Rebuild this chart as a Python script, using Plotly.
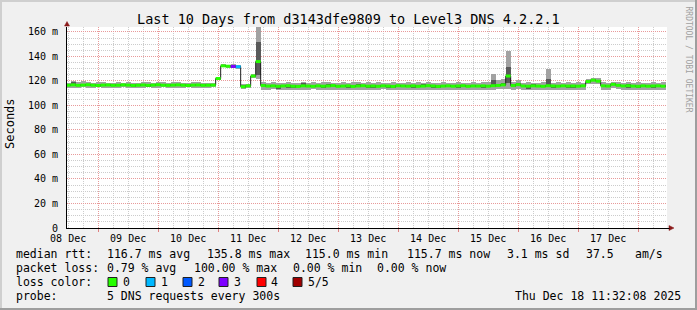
import plotly.graph_objects as go
import pandas as pd

# ---------------- data (2-hour bins starting 2025-12-08 11:00) ----------------
median_ms = [
    116.5, 116.8, 116.4, 116.6, 116.9, 116.5, 116.3, 116.6, 116.7, 116.4,
    116.5, 116.8, 116.6, 116.3, 116.5, 116.7, 116.4, 116.6, 116.9, 116.5,
    116.4, 116.6, 116.8, 116.5, 116.3, 116.6, 116.7, 116.4, 116.5, 116.6,
    122.0, 132.3, 132.0, 131.8, 131.6, 115.3, 116.0, 124.0, 135.8, 116.2,
    115.8, 116.0, 115.6, 115.9, 116.1, 115.7, 115.5, 116.0, 115.8, 115.6,
    116.0, 115.7, 115.9, 116.2, 115.6, 115.8, 116.0, 115.5, 115.9, 116.1,
    115.7, 115.9, 115.6, 116.0, 115.8, 115.5, 116.1, 115.9, 115.7, 116.0,
    115.6, 115.8, 116.1, 115.9, 115.5, 115.8, 116.0, 115.7, 115.9, 116.1,
    115.6, 115.9, 115.8, 116.0, 115.7, 116.1, 116.3, 116.8, 124.0, 116.2,
    117.0, 115.9, 115.7, 116.0, 115.8, 115.6, 116.1, 115.9, 115.7, 116.0,
    115.8, 115.9, 115.7, 116.0, 119.5, 120.6, 119.8, 116.0, 115.8, 117.2,
    116.4, 115.9, 116.1, 115.8, 115.6, 116.0, 115.7, 115.9, 116.0, 115.7,
]
loss_level = [0] * 120
loss_level[33] = 3
loss_level[34] = 1

smoke_outer_lo = [
    114.4, 114.6, 114.1, 114.8, 114.5, 114.2, 114.7, 114.3, 114.6, 114.0,
    114.5, 114.8, 114.2, 114.4, 114.6, 114.1, 114.7, 114.3, 114.5, 114.8,
    114.2, 114.4, 114.6, 114.1, 114.7, 114.5, 114.2, 114.6, 114.4, 114.8,
    120.5, 131.0, 130.8, 130.5, 130.0, 113.8, 114.2, 122.5, 121.5, 112.9,
    112.6, 113.2, 112.3, 112.8, 113.0, 112.4, 112.2, 112.9, 112.6, 113.1,
    112.5, 112.3, 112.8, 113.0, 112.4, 112.7, 112.2, 112.9, 112.6, 113.0,
    112.4, 112.8, 112.3, 113.1, 112.5, 112.2, 112.9, 112.7, 112.4, 113.0,
    112.3, 112.6, 112.9, 112.4, 112.2, 112.8, 113.0, 112.5, 112.7, 112.4,
    112.9, 112.3, 112.6, 113.0, 112.4, 112.8, 113.2, 113.3, 113.4, 112.7,
    113.6, 112.5, 112.2, 112.9, 112.6, 112.4, 113.0, 112.7, 112.3, 112.8,
    112.5, 112.9, 112.4, 112.7, 117.2, 117.9, 117.3, 112.6, 112.4, 114.0,
    113.2, 112.7, 113.0, 112.4, 112.3, 112.8, 112.5, 112.9, 112.6, 112.4,
]
smoke_outer_hi = [
    118.5, 119.8, 119.1, 119.6, 118.8, 118.3, 118.9, 119.2, 118.6, 118.4,
    119.0, 118.7, 119.2, 118.5, 118.3, 118.9, 119.4, 118.6, 119.1, 118.8,
    118.5, 119.0, 119.3, 118.7, 118.4, 118.9, 119.2, 118.6, 118.3, 118.7,
    123.0, 133.5, 133.2, 133.5, 133.0, 117.5, 117.8, 125.5, 164.5, 118.8,
    118.4, 119.0, 118.3, 118.7, 119.2, 118.5, 118.2, 118.9, 118.6, 119.0,
    118.4, 118.8, 119.3, 118.3, 118.7, 119.1, 118.4, 118.8, 119.0, 118.5,
    118.9, 118.3, 119.1, 118.6, 118.4, 119.0, 118.7, 118.3, 118.9, 118.6,
    119.2, 118.4, 118.8, 118.5, 118.3, 119.0, 118.7, 118.4, 118.9, 118.7,
    118.4, 119.0, 118.6, 119.1, 119.4, 125.5, 120.9, 121.4, 144.5, 118.8,
    120.4, 118.6, 119.0, 118.4, 118.7, 118.9, 130.0, 118.6, 119.0, 118.5,
    118.8, 118.4, 118.9, 118.7, 121.9, 122.4, 122.0, 118.8, 118.4, 119.4,
    119.0, 118.6, 118.9, 118.4, 119.1, 118.7, 118.5, 119.0, 118.6, 118.8,
]
smoke_inner_lo = [
    115.6, 115.9, 115.5, 115.7, 116.0, 115.6, 115.2, 115.7, 115.8, 115.5,
    115.6, 115.9, 115.7, 115.2, 115.6, 115.8, 115.3, 115.7, 116.0, 115.6,
    115.5, 115.7, 115.9, 115.6, 115.2, 115.7, 115.8, 115.5, 115.6, 115.7,
    121.2, 131.6, 131.4, 131.2, 131.0, 114.6, 115.2, 123.2, 124.5, 115.3,
    114.9, 115.1, 113.8, 115.2, 114.0, 114.6, 115.1, 114.9, 114.7, 115.1,
    114.8, 114.0, 115.3, 114.7, 114.9, 115.1, 113.9, 115.0, 115.2, 114.8,
    114.0, 114.6, 115.1, 114.9, 114.6, 114.0, 115.0, 114.8, 115.1, 114.0,
    114.9, 115.2, 115.0, 114.6, 113.9, 115.1, 114.8, 115.0, 114.0, 114.7,
    115.0, 114.9, 115.1, 114.0, 115.2, 115.2, 115.8, 116.0, 118.0, 115.3,
    116.1, 115.0, 113.8, 115.1, 114.9, 114.7, 115.0, 115.0, 114.8, 115.1,
    114.0, 115.0, 114.8, 115.1, 118.6, 119.7, 118.9, 115.1, 114.9, 116.3,
    115.5, 115.0, 114.0, 114.9, 113.9, 115.1, 114.8, 114.0, 115.1, 114.8,
]
smoke_inner_hi = [
    117.4, 119.0, 117.3, 117.5, 117.8, 117.4, 117.2, 117.5, 117.6, 117.3,
    117.4, 117.7, 117.5, 117.2, 117.4, 117.6, 117.3, 117.5, 117.8, 117.4,
    117.3, 117.5, 117.7, 117.4, 117.2, 117.5, 117.6, 117.3, 117.4, 117.5,
    122.6, 133.0, 132.8, 132.6, 132.4, 116.4, 116.9, 124.8, 152.0, 117.1,
    116.7, 116.9, 116.6, 117.0, 116.6, 116.4, 116.9, 118.0, 116.5, 116.9,
    116.6, 116.8, 117.1, 116.5, 116.7, 116.9, 116.4, 116.8, 117.9, 116.6,
    116.8, 116.5, 116.9, 116.7, 116.4, 117.0, 116.8, 116.6, 116.9, 116.5,
    116.7, 117.8, 116.8, 116.4, 116.7, 116.9, 116.6, 116.8, 117.0, 116.5,
    116.8, 116.7, 116.9, 116.6, 117.0, 121.0, 117.8, 118.0, 131.0, 117.1,
    118.0, 116.8, 116.6, 117.9, 116.7, 116.5, 121.4, 116.6, 116.9, 116.6,
    116.8, 116.6, 116.9, 116.7, 120.4, 121.5, 120.7, 116.9, 116.7, 118.1,
    117.3, 116.9, 117.1, 116.7, 116.5, 116.9, 116.6, 116.8, 117.0, 116.6,
]

x_day_labels = ["08 Dec", "09 Dec", "10 Dec", "11 Dec", "12 Dec",
                "13 Dec", "14 Dec", "15 Dec", "16 Dec", "17 Dec"]
y_tick_values = [0, 20, 40, 60, 80, 100, 120, 140, 160]
y_tick_labels = ["0", "20 m", "40 m", "60 m", "80 m", "100 m", "120 m", "140 m", "160 m"]

loss_names = ["0", "1", "2", "3", "4", "5/5"]
loss_colors = ["#26ff00", "#00b8ff", "#0059ff", "#7e00ff", "#ff0000", "#a00000"]

legend_rows = [
    [("median rtt:", 16), ("116.7 ms avg", 107), ("135.8 ms max", 207), ("115.0 ms min", 305),
     ("115.7 ms now", 407), ("3.1 ms sd", 507), ("37.5", 586), ("am/s", 635)],
    [("packet loss:", 16), ("0.79 % avg", 107), ("100.00 % max", 194), ("0.00 % min", 293),
     ("0.00 % now", 377)],
    [("loss color:", 16)],
    [("probe:", 16), ("5 DNS requests every 300s", 107)],
]
title_text = "Last 10 Days from d3143dfe9809 to Level3 DNS 4.2.2.1"
stamp_text = "Thu Dec 18 11:32:08 2025"

# ---------------- geometry ----------------
W, H = 697, 310
PL, PR, PT, PB = 67, 667, 27, 228   # plot area in pixels
MONO = "DejaVu Sans Mono"

def px(x):
    return (x - PL) / (PR - PL)

def py(y):
    return (PB - y) / (PB - PT)

start = pd.Timestamp("2025-12-08 11:32:08")
end = pd.Timestamp("2025-12-18 11:32:08")
bin0 = pd.Timestamp("2025-12-08 11:00:00")
step = pd.Timedelta(hours=2)
n = len(median_ms)
left_edges = [bin0 + i * step for i in range(n)]
centers = [t + step / 2 for t in left_edges]
width_ms = step.total_seconds() * 1000

fig = go.Figure()
fig.add_trace(go.Bar(x=centers, base=smoke_outer_lo,
                     y=[h - l for h, l in zip(smoke_outer_hi, smoke_outer_lo)],
                     width=width_ms, marker=dict(color="#a2a2a2", line=dict(width=0)),
                     hoverinfo="skip", showlegend=False))
fig.add_trace(go.Bar(x=centers, base=smoke_inner_lo,
                     y=[h - l for h, l in zip(smoke_inner_hi, smoke_inner_lo)],
                     width=width_ms, marker=dict(color="#5a5a5a", line=dict(width=0)),
                     hoverinfo="skip", showlegend=False))
fig.add_trace(go.Scatter(x=left_edges + [left_edges[-1] + step], y=median_ms + [median_ms[-1]],
                         mode="lines", line=dict(color="#202020", width=1, shape="hv"),
                         hoverinfo="skip", showlegend=False))
for lvl, col in enumerate(loss_colors):
    xs, ys = [], []
    for i in range(n):
        if loss_level[i] == lvl:
            xs += [left_edges[i], left_edges[i] + step, None]
            ys += [median_ms[i], median_ms[i], None]
    if xs:
        fig.add_trace(go.Scatter(x=xs, y=ys, mode="lines", line=dict(color=col, width=3),
                                 hoverinfo="skip", showlegend=False))
# companion trace for the midnight grid axis
fig.add_trace(go.Scatter(x=[start], y=[None], xaxis="x2", mode="lines",
                         hoverinfo="skip", showlegend=False))

noon_ticks = [pd.Timestamp("2025-12-08 12:00") + pd.Timedelta(days=d) for d in range(len(x_day_labels))]

RED_GRID = "#e89a9a"
GRAY_GRID = "#cccccc"
fig.update_layout(
    width=W, height=H,
    margin=dict(l=PL, r=W - PR, t=PT, b=H - PB),
    paper_bgcolor="#f0f0f0", plot_bgcolor="#ffffff",
    barmode="overlay", bargap=0,
    font=dict(family=MONO, color="#000000"),
    xaxis=dict(type="date", range=[start, end], tickmode="array", tickvals=noon_ticks,
               ticktext=x_day_labels, showgrid=False, zeroline=False, ticks="",
               showline=True, linecolor="#000000", linewidth=1,
               tickfont=dict(family=MONO, size=10, color="#000000"), ticklabelstandoff=1,
               minor=dict(tickmode="linear", tick0="2025-12-08 00:00", dtick=6 * 3600 * 1000,
                          showgrid=True, gridcolor=GRAY_GRID, griddash="1px,1px", gridwidth=1)),
    xaxis2=dict(type="date", range=[start, end], overlaying="x", anchor="y", side="bottom",
                tickmode="linear", tick0="2025-12-09 00:00", dtick=86400000,
                showgrid=True, gridcolor=RED_GRID, griddash="1px,1px", gridwidth=1,
                showticklabels=False, ticks="outside", ticklen=3, tickcolor="#e08080",
                showline=False, zeroline=False),
    yaxis=dict(range=[0, 164], tickmode="array", tickvals=y_tick_values, ticktext=y_tick_labels,
               showgrid=True, gridcolor=RED_GRID, griddash="1px,1px", gridwidth=1,
               zeroline=False, ticks="", showline=True, linecolor="#000000", linewidth=1,
               tickfont=dict(family=MONO, size=10, color="#000000"), ticklabelstandoff=6,
               minor=dict(tickmode="linear", tick0=0, dtick=5, showgrid=True,
                          gridcolor=GRAY_GRID, griddash="1px,1px", gridwidth=1)),
)

ann = []
def text(s, x, y, size=11.5, anchor="left", color="#000000", angle=0):
    ann.append(dict(text=s, x=px(x), y=py(y), xref="paper", yref="paper", showarrow=False,
                    xanchor=anchor, yanchor="middle", textangle=angle, borderpad=0, borderwidth=0,
                    font=dict(family=MONO, size=size, color=color)))

text(title_text, 348.5, 19, size=13.5, anchor="center")
text("Seconds", 10, 124, size=12, anchor="center", angle=-90)
text("RRDTOOL / TOBI OETIKER", 688.5, 59, size=8, anchor="center", color="#a0a0a0", angle=90)
row_y = [254, 268, 282, 296]
for row, yy in zip(legend_rows, row_y):
    for s, xx in row:
        text(s, xx, yy)
text(stamp_text, 681, 296, anchor="right")

swatch_x = [108, 146, 183, 219, 257, 293]
label_x = [123, 161, 198, 234, 271, 308]
shapes = []
for sx, lx, nm, col in zip(swatch_x, label_x, loss_names, loss_colors):
    shapes.append(dict(type="rect", xref="paper", yref="paper", x0=px(sx), x1=px(sx + 9),
                       y0=py(286.5), y1=py(277.5), fillcolor=col,
                       line=dict(color="#202020", width=1)))
    text(nm, lx, 282)

ARROW = "#8b1a1a"
shapes.append(dict(type="path", xref="paper", yref="paper",
                   path=f"M {px(64.5)} {py(26)} L {px(67)} {py(21.5)} L {px(69.5)} {py(26)} Z",
                   fillcolor=ARROW, line=dict(color=ARROW, width=0.5)))
shapes.append(dict(type="path", xref="paper", yref="paper",
                   path=f"M {px(669)} {py(225.5)} L {px(674)} {py(228)} L {px(669)} {py(230.5)} Z",
                   fillcolor=ARROW, line=dict(color=ARROW, width=0.5)))
shapes.append(dict(type="line", xref="paper", yref="paper", x0=px(666.5), x1=px(669.5),
                   y0=py(228.5), y1=py(228.5), line=dict(color="#000000", width=1)))
# frame shading
shapes.append(dict(type="rect", xref="paper", yref="paper", x0=px(0), x1=px(697), y0=py(2), y1=py(0),
                   fillcolor="#cfcfcf", line=dict(width=0)))
shapes.append(dict(type="rect", xref="paper", yref="paper", x0=px(0), x1=px(2), y0=py(310), y1=py(0),
                   fillcolor="#cfcfcf", line=dict(width=0)))
shapes.append(dict(type="rect", xref="paper", yref="paper", x0=px(0), x1=px(697), y0=py(310), y1=py(308),
                   fillcolor="#9e9e9e", line=dict(width=0)))
shapes.append(dict(type="rect", xref="paper", yref="paper", x0=px(695), x1=px(697), y0=py(310), y1=py(0),
                   fillcolor="#9e9e9e", line=dict(width=0)))

fig.update_layout(annotations=ann, shapes=shapes)
fig.write_html("out.html")
